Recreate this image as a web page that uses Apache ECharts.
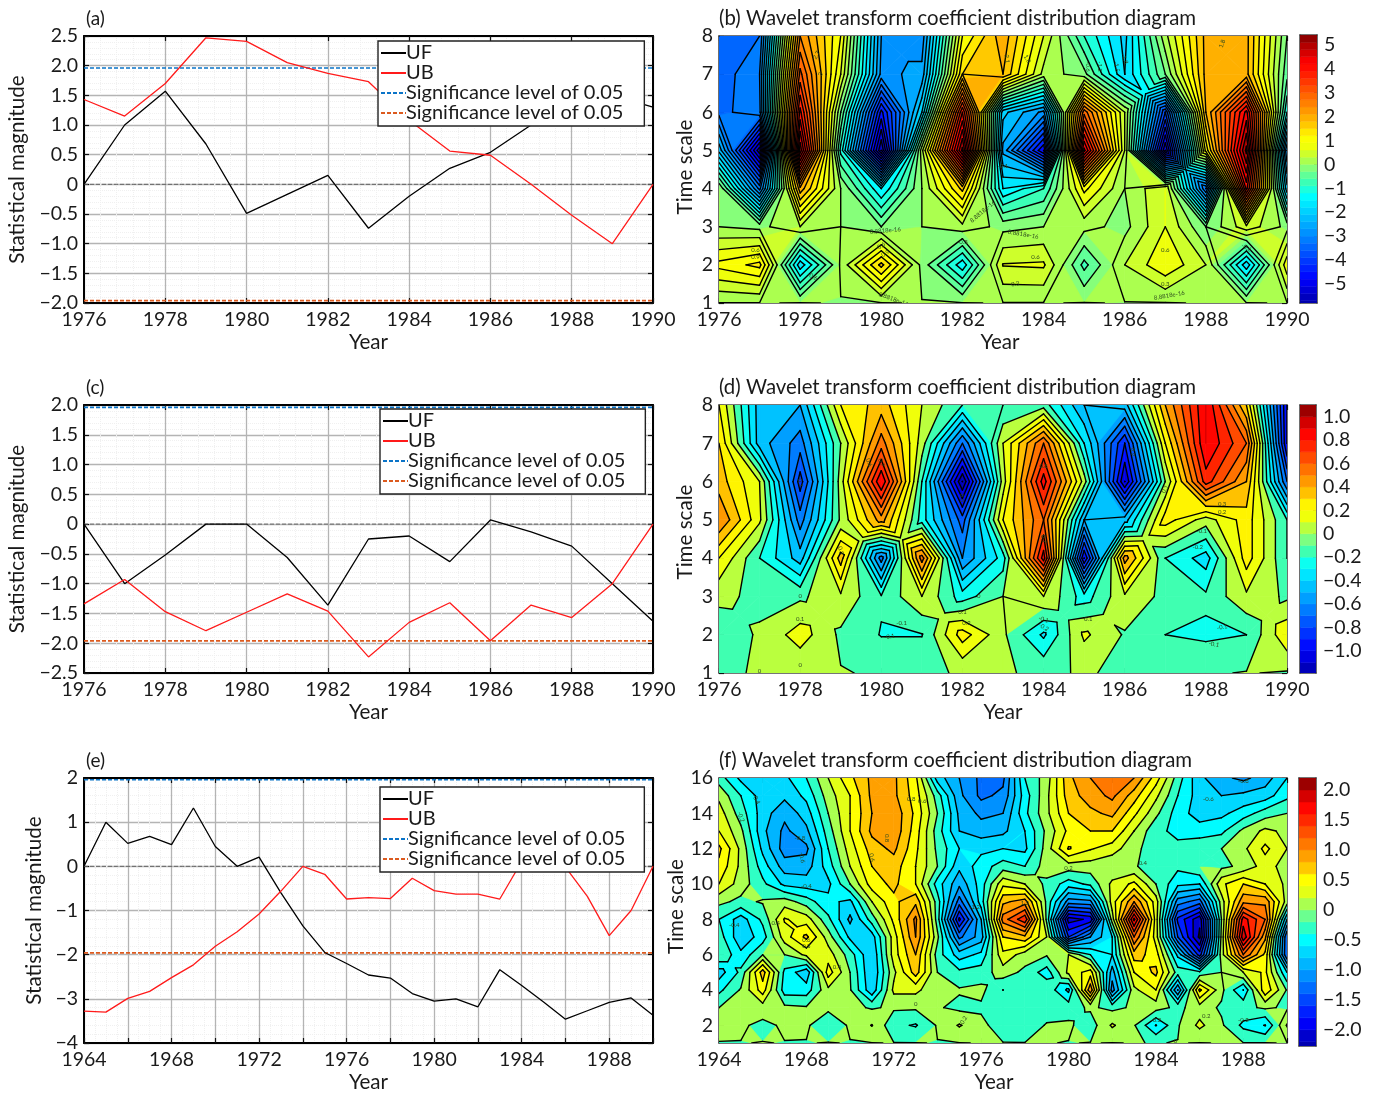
<!DOCTYPE html>
<html>
<head>
<meta charset="utf-8">
<style>html,body{margin:0;padding:0;background:#fff}#c{width:1377px;height:1094px}</style>
<script src="https://cdn.jsdelivr.net/npm/echarts@6/dist/echarts.min.js"></script>
</head>
<body>
<div id="c"></div>
<script>
// ---------- line panels ----------
const yearsA = [1976,1977,1978,1979,1980,1981,1982,1983,1984,1985,1986,1987,1988,1989,1990];
const ufA = [0,1.0,1.57,0.68,-0.49,-0.17,0.15,-0.74,-0.2,0.27,0.54,1.0,1.3,1.5,1.3];
const ubA = [1.43,1.15,1.7,2.47,2.41,2.05,1.87,1.73,1.08,0.56,0.49,0,-0.52,-1.0,0];
const ufC = [0,-1.0,-0.52,0,0,-0.56,-1.36,-0.25,-0.2,-0.63,0.07,-0.13,-0.37,-1.0,-1.63];
const ubC = [-1.34,-0.93,-1.47,-1.79,-1.48,-1.17,-1.46,-2.23,-1.65,-1.32,-1.96,-1.36,-1.57,-1.0,0];
const yearsE = [1964,1965,1966,1967,1968,1969,1970,1971,1972,1973,1974,1975,1976,1977,1978,1979,1980,1981,1982,1983,1984,1985,1986,1987,1988,1989,1990];
const ufE = [0,1.0,0.52,0.68,0.49,1.32,0.45,0,0.21,-0.6,-1.35,-1.95,-2.2,-2.46,-2.53,-2.88,-3.05,-3.0,-3.18,-2.34,-2.7,-3.07,-3.46,-3.27,-3.08,-2.98,-3.37];
const ubE = [-3.28,-3.3,-2.99,-2.83,-2.52,-2.23,-1.81,-1.48,-1.08,-0.56,0,-0.18,-0.74,-0.71,-0.73,-0.27,-0.55,-0.63,-0.63,-0.74,0.11,0.3,-0.02,-0.68,-1.57,-1.0,0];
const sigHigh = 1.96;
const sigLow = -1.96;

// ---------- wavelet panel (b), one row per time scale, 1976..1990 ----------
const bS1 = [-.01,-.01,.01,-.01,-.01,.01,.01,-.01,-.01,.01,-.01,-.01,.01,.01,-.01];
const bS2 = [1.0,1.3,-1.7,0.05,1.6,-0.1,-1.4,0.62,0.65,-0.7,0.3,0.85,0.3,-1.7,0.8];
const bS3 = [0,-0.1,0.3,0,-0.3,0,0.2,-0.1,0,0.1,-0.1,0.6,-0.3,0.5,-0.1];
const bS4 = [0,-3.1,2.0,0,-1.5,0,1.6,-1.5,-0.9,1.0,0,0.6,-3.3,4.0,-2.0];
const bS5 = [-2.2,-5.6,5.0,-1.0,-5.7,0.2,5.2,-2.5,-4.8,4.6,0.3,-5.4,1.0,5.2,-3.0];
const bS6 = [-3.4,-3.1,4.0,-0.3,-4.6,-1.8,3.9,-2.0,-2.8,2.9,0.3,-3.9,1.8,4.3,-1.2];
const bS7 = [-3.5,-3.0,3.1,0.6,-2.8,-2.6,1.5,1.8,0.2,-0.2,-1.8,-0.3,1.9,1.9,-0.5];
const bS8 = [-3.6,-3.3,2.4,0.9,-2.7,-2.9,0.9,2.0,0.6,-0.9,-1.9,0.2,1.9,1.9,-0.3];
const waveB = [bS1,bS2,bS3,bS4,bS5,bS6,bS7,bS8];

// ---------- wavelet panel (d) ----------
const dS1 = [-.01,.005,.005,.005,-.01,-.01,.005,.005,-.01,.005,-.01,-.01,-.01,.005,-.01];
const dS2 = [-0.05,0.01,0.15,-0.02,-0.105,-0.105,0.25,0.02,-0.22,0.12,-0.01,-0.1,-0.12,-0.1,0.18];
const dS3 = [0.02,-0.02,-0.02,0.08,-0.09,0.1,-0.15,0,0.1,-0.15,0.08,-0.03,-0.08,0.08,-0.02];
const dS4 = [0.2,-0.1,-0.35,0.35,-0.55,0.55,-0.5,-0.15,0.85,-0.9,0.45,-0.1,-0.25,0.25,-0.1];
const dS5 = [0.5,0.12,-0.55,0.02,0.45,-0.15,-0.65,0.2,0.6,-0.4,-0.35,0.25,0.05,0.25,-0.1];
const dS6 = [0.35,0.1,-0.75,0.05,0.9,-0.1,-1.1,0.05,0.85,0.05,-1.0,0,0.75,0.4,-0.6];
const dS7 = [0.3,-0.35,-0.55,0,0.55,0.05,-0.6,0.1,0.6,-0.2,-0.8,0.2,0.9,0.6,-0.9];
const dS8 = [0.2,-0.35,-0.4,0.2,0.35,0.1,-0.1,-0.1,-0.05,-0.4,-0.35,0.4,0.9,0.3,-0.9];
const waveD = [dS1,dS2,dS3,dS4,dS5,dS6,dS7,dS8];

// ---------- wavelet panel (f), 1964..1990 ----------
const fS1  = [-.005,-.005,.005,-.005,-.005,.005,-.005,-.005,.005,.005,-.005,-.005,.005,.005,.005,.005,-.005,.005,-.005,.005,-.005,.005,-.005,.005,.005,.005,-.005];
const fS2  = [.05,.03,-.05,.03,.02,-.1,.02,.21,-.15,-.22,.02,.22,.05,-.1,-.15,.02,.03,-.1,.23,.02,-.41,-.02,.25,.03,-.25,-.41,.22];
const fS3  = [0,.02,.1,.05,.02,.03,.05,-.02,.03,.03,.02,-.05,-.03,-.1,-.1,-.12,-.08,.03,-.05,.03,.08,-.05,.1,-.03,-.05,.03,-.03];
const fS4  = [-.25,.02,.5,-.3,-.3,.15,.02,-.55,.25,.25,.05,.02,.05,-.2,-.05,-.05,-.45,.95,-.9,.15,.4,-.8,.65,.05,-.4,.55,-.02];
const fS5  = [-.5,-.15,.7,-.25,-.55,.5,0,-.6,.15,.7,0,-.15,-.1,.1,-.05,-.3,.25,.5,-.7,.4,.65,-.1,-.15,0,.2,.45,-.4];
const fS6  = [0,-.35,0,0,.25,.3,-.1,-.6,.3,.8,-.1,-.5,-.35,.35,.1,.02,.2,-.2,-.4,.7,.5,-.45,-1.5,.1,1.2,.55,-1.2];
const fS7  = [-.1,-.55,-.3,.3,.65,.1,-.45,-.5,.3,1.0,.05,-1.05,-.7,.6,.75,.2,-1.4,-.8,-.4,1.2,.3,-1.2,-2.05,.05,1.95,.85,-1.2];
const fS8  = [-.2,-.5,-.15,.42,.3,-.15,-.65,-.1,.45,1.05,-.1,-1.65,-.6,1.1,1.55,-.05,-1.9,-1.75,.1,1.85,.3,-1.45,-1.95,0,1.7,1.2,-.6];
const fS9  = [.05,-.05,.02,.1,-.1,-.35,-.45,.2,.55,.75,-.1,-1.1,-.3,.75,.9,-.05,-.9,-.85,.3,1.0,.3,-.9,-1.1,.1,.95,.95,.1];
const fS10 = [.4,.1,-.15,-.45,-.5,-.45,0,.5,.65,.4,-.3,-.75,-.3,.35,.2,-.05,-.3,-.15,.25,.45,0,-.35,-.4,.35,.6,.4,.15];
const fS11 = [.55,.15,-.3,-.7,-.7,-.3,.2,.6,.7,.4,0,-.55,-.3,-.1,-.2,.1,.1,.1,.02,.02,-.1,-.15,0,-.05,.05,.3,.1];
const fS12 = [.65,.15,-.45,-.9,-.85,-.2,.3,.7,.85,.45,-.05,-.4,-.45,-.4,-.45,.1,.62,.42,.3,.05,-.1,-.15,-.05,0,.15,.45,.2];
const fS13 = [.4,.05,-.55,-.85,-.65,-.1,.4,.85,.95,.5,-.1,-.6,-.7,-.65,-.4,.05,.45,.6,.6,.2,-.15,-.25,-.3,-.25,.05,.25,.15];
const fS14 = [.3,-.1,-.5,-.75,-.5,0,.4,.8,.95,.55,0,-.65,-.85,-.8,-.25,.15,.6,.75,.85,.45,.05,-.3,-.5,-.45,-.3,-.1,0];
const fS15 = [.15,-.2,-.5,-.55,-.35,.1,.4,.85,.85,.5,-.1,-.75,-1.05,-.95,-.3,.15,.7,.9,1.05,.7,.25,-.2,-.5,-.6,-.55,-.5,-.25];
const fS16 = [-.1,-.45,-.55,-.45,-.2,.2,.55,.85,.85,.45,-.5,-.8,-1.05,-1.05,-.2,.1,.75,1.0,1.1,1.0,.5,-.1,-.55,-.75,-.85,-.7,-.4];
const waveF = [fS1,fS2,fS3,fS4,fS5,fS6,fS7,fS8,fS9,fS10,fS11,fS12,fS13,fS14,fS15,fS16];

// ---------- contour labels: year, scale, text, rotation ----------
const labelsB = [[1978.4,7.5,'2.7',-60],[1978.5,7.0,'3',-70],[1983.1,7.4,'2.1',80],[1983.6,7.4,'1.8',60],[1985.1,7.2,'-0.6',90],[1985.4,7.2,'-1.2',90],[1985.8,7.2,'-1.5',80],[1986.0,7.4,'-1.8',70],[1988.4,7.8,'1.8',-70],[1983,4.6,'-2.1',0],[1976.9,2.4,'0.6',0],[1976.9,2.2,'0.9',0],[1978.3,1.7,'-0.6',30],[1980.0,2.5,'0.6',-30],[1980.1,2.3,'0.9',-30],[1982,2.6,'-0.3',0],[1983.8,2.2,'0.6',0],[1983.3,1.5,'0.3',-10],[1987,2.4,'0.6',0],[1987,1.5,'0.3',0],[1989,2.45,'-0.6',30],[1980.3,1.1,'8.8818e-16',20],[1987.1,1.2,'8.8818e-16',-10],[1983.5,2.8,'8.8818e-16',10],[1980.1,2.9,'8.8818e-16',-5],[1982.5,3.4,'8.8818e-16',-40]];
const labelsD = [[1978,6,'-0.7',80],[1979,4.2,'0.3',75],[1980,6.5,'0.7',70],[1979.7,6.5,'0.6',70],[1982,5.6,'-0.8',90],[1984,6.4,'0.8',0],[1984,4.5,'0.7',80],[1986.2,6.8,'-0.9',90],[1988.4,5.4,'0.3',0],[1988.4,5.2,'0.2',0],[1987.9,4.7,'-0.1',0],[1987.8,4.3,'-0.2',0],[1978,1.2,'0',0],[1978,3.0,'0',0],[1978,2.4,'0.1',0],[1980.5,2.3,'-0.1',0],[1980.2,1.95,'-0.1',-10],[1982,2.6,'0.1',0],[1982.1,2.3,'0.2',0],[1984,2.4,'-0.1',20],[1984,2.2,'-0.2',30],[1985.1,2.4,'0.1',0],[1988.4,2.2,'-0.1',-10],[1988.2,1.75,'-0.1',10],[1977,1.05,'0',0],[1982.4,3.0,'0',0],[1987,5.8,'0.1',-60]];
const labelsF = [[1965,13.8,'-0.2',70],[1965.7,14.8,'-0.4',60],[1967.7,12.6,'-0.8',0],[1967.8,11.5,'-0.6',80],[1968,9.9,'-0.4',0],[1968,6.8,'0.6',0],[1968,6.5,'0.3',0],[1971,11.5,'0.6',80],[1971.7,12.6,'0.8',90],[1972.8,14.8,'0.8',0],[1973.3,14.7,'0.6',0],[1975.7,8.7,'-1.2',0],[1978,8.9,'1.2',0],[1980,10.9,'0.2',0],[1983.4,11.2,'0.4',0],[1986.4,14.8,'-0.6',0],[1988,15.8,'-0.8',0],[1984,2.3,'-0.2',0],[1988,2.3,'-0.2',0],[1986.3,2.5,'0.2',0],[1984.9,1.1,'0',0],[1975.2,2.3,'0.2',-60],[1973,3.2,'0',0],[1969.4,5.3,'0.4',0],[1966.6,7.8,'0.4',0],[1964.7,7.7,'-0.4',0]];

// ---------- colour ramp ----------
const rampStops = [[0,[0,0,168]],[0.09,[0,0,255]],[0.24,[0,128,255]],[0.40,[0,255,255]],[0.455,[64,255,176]],[0.50,[128,255,128]],[0.54,[184,255,64]],[0.585,[240,255,10]],[0.62,[255,255,0]],[0.665,[255,200,0]],[0.72,[255,150,0]],[0.87,[255,16,0]],[0.90,[255,0,0]],[1,[128,0,0]]];
function ramp(f){
  f = Math.max(0,Math.min(1,f));
  for (let i=1;i<rampStops.length;i++){
    if (f<=rampStops[i][0]){
      const a=rampStops[i-1], b=rampStops[i], t=(f-a[0])/(b[0]-a[0]);
      const c=a[1].map((v,k)=>Math.round(v+(b[1][k]-v)*t));
      return 'rgb('+c.join(',')+')';
    }
  }
  return 'rgb(128,0,0)';
}

// ---------- fonts and helpers ----------
const FONT = 'Lato';
const txtCol = '#1a1a1a';
const NAME_FS = 20.6;
const TICK_FS = 19.5;
const minus = s => String(s).replace('-','\u2212');

const option = {animation:false, backgroundColor:'#fff', title:[], grid:[], xAxis:[], yAxis:[], legend:[], series:[]};

function addGrid(box){
  option.grid.push({left:box.l, top:box.t, width:box.r-box.l, height:box.b-box.t, containLabel:false});
  return option.grid.length-1;
}
function baseX(g, o){
  return {type:'value', gridIndex:g, min:o.xMin, max:o.xMax, interval:o.xInt,
    axisLine:{onZero:false, lineStyle:{color:o.frame,width:o.fw}},
    axisTick:{inside:true,length:5,lineStyle:{color:'#111',width:1.2}}};
}
function addAxes(g, o){
  const xa = baseX(g,o);
  const main = Object.assign({}, xa, {position:'bottom',
    name:'Year', nameLocation:'middle', nameGap:29, nameTextStyle:{fontFamily:FONT,fontSize:NAME_FS,color:txtCol,padding:o.xPad||0},
    axisLabel:{fontFamily:FONT,fontSize:TICK_FS,color:txtCol,margin:7,
      hideOverlap:false, showMinLabel:true, showMaxLabel:true,
      formatter:v=>(v-o.xMin)%o.xLab===0?String(v):''},
    splitLine:{show:o.grid,lineStyle:{color:'#b4b4b4',width:1.3}},
    minorTick:{show:false,splitNumber:o.xMinor||5},
    minorSplitLine:{show:o.grid,lineStyle:{color:'#f0f0f0',width:1,type:'dotted'}}});
  option.xAxis.push(main);
  const xIdx = option.xAxis.length-1;
  option.xAxis.push(Object.assign({}, xa, {position:'top', axisLabel:{show:false}, splitLine:{show:false}}));

  const ya = {type:'value', gridIndex:g, min:o.yMin, max:o.yMax,
    axisLine:{onZero:false,lineStyle:{color:o.frame,width:o.fw}},
    axisTick:{inside:true,length:5,lineStyle:{color:'#111',width:1.2}}};
  if (o.yInt) ya.interval = o.yInt;
  if (o.yTicks) ya.axisTick.customValues = o.yTicks;
  const lab = {fontFamily:FONT,fontSize:TICK_FS,color:txtCol,margin:6,formatter:o.yFmt};
  if (o.yTicks) lab.customValues = o.yTicks;
  option.yAxis.push(Object.assign({}, ya, {position:'left',
    name:o.yName, nameLocation:'middle', nameGap:o.yGap, nameRotate:90,
    nameTextStyle:{fontFamily:FONT,fontSize:NAME_FS,color:txtCol,padding:o.yPad||0},
    axisLabel:lab,
    splitLine:{show:o.grid,lineStyle:{color:'#b4b4b4',width:1.3}},
    minorTick:{show:false,splitNumber:5},
    minorSplitLine:{show:o.grid,lineStyle:{color:'#f0f0f0',width:1,type:'dotted'}}}));
  const yIdx = option.yAxis.length-1;
  option.yAxis.push(Object.assign({}, ya, {position:'right', axisLabel:{show:false}, splitLine:{show:false}}));
  return {xIdx,yIdx};
}

function addLinePanel(box, label, years, uf, ub, o, leg){
  const g = addGrid(box);
  const a = addAxes(g, Object.assign({frame:'#000',fw:2,grid:true,yName:'Statistical magnitude'}, o));
  option.title.push({text:label,left:box.l-3,top:box.t-32,textStyle:{fontFamily:FONT,fontSize:19,fontWeight:'normal',color:txtCol}});
  const zip = v => years.map((y,i)=>[y,v[i]]);
  const common = {type:'line',xAxisIndex:a.xIdx,yAxisIndex:a.yIdx,showSymbol:false,symbol:'none',silent:true};
  const ends = [years[0],years[years.length-1]];
  option.series.push(Object.assign({},common,{name:'zero',data:ends.map(x=>[x,0]),z:2,itemStyle:{color:'#666'},lineStyle:{color:'#666',width:1,type:[4,2]}}));
  option.series.push(Object.assign({},common,{name:'UF',data:zip(uf),z:3,itemStyle:{color:'#000'},lineStyle:{color:'#000',width:1.3}}));
  option.series.push(Object.assign({},common,{name:'UB',data:zip(ub),z:3,itemStyle:{color:'#ff1a1a'},lineStyle:{color:'#ff1a1a',width:1.3}}));
  option.series.push(Object.assign({},common,{name:'Significance level of 0.05',data:ends.map(x=>[x,sigHigh]),z:2,itemStyle:{color:'#0a74c8'},lineStyle:{color:'#0a74c8',width:1.6,type:[4,2]}}));
  option.series.push(Object.assign({},common,{name:'Significance level of 0.05 (lower)',data:ends.map(x=>[x,sigLow]),z:2,itemStyle:{color:'#dc5a1e'},lineStyle:{color:'#dc5a1e',width:1.6,type:[4,2]}}));
  option.legend.push({left:leg.l,top:leg.t,orient:'vertical',selectedMode:false,z:10,
    data:['UF','UB','Significance level of 0.05','Significance level of 0.05 (lower)'],
    formatter:n=>n.replace(' (lower)',''),
    itemWidth:25,itemHeight:20,itemGap:0,itemStyle:{opacity:0},
    padding:[2,leg.pr,3,2],backgroundColor:'#fff',borderColor:'#222',borderWidth:1.4,
    textStyle:{fontFamily:FONT,fontSize:leg.fs,color:txtCol,padding:[0,0,0,-5],lineHeight:20}});
}

// polygon clipped at a value limit along its edges
function clipBand(poly, test, lim){
  const out=[];
  for (let i=0;i<poly.length;i++){
    const p=poly[i], q=poly[(i+1)%poly.length];
    const pin=test(p[2]), qin=test(q[2]);
    if (pin) out.push(p);
    if (pin!==qin){
      const t=(lim-p[2])/(q[2]-p[2]);
      out.push([p[0]+(q[0]-p[0])*t,p[1]+(q[1]-p[1])*t,lim]);
    }
  }
  return out;
}
// a strong saddle cell is split round its mean so bands stay simple polygons
function cellPolys(q){
  const a=q[0][2],b=q[1][2],c=q[2][2],d=q[3][2];
  const hiAC=Math.min(a,c)-Math.max(b,d), hiBD=Math.min(b,d)-Math.max(a,c);
  const range=Math.max(a,b,c,d)-Math.min(a,b,c,d);
  if(Math.max(hiAC,hiBD)<0.3*range) return [q];
  const m=[(q[0][0]+q[2][0])/2,(q[0][1]+q[2][1])/2,(a+b+c+d)/4];
  return [[q[0],q[1],m],[q[1],q[2],m],[q[2],q[3],m],[q[3],q[0],m]];
}

function addWaveletPanel(box, bar, title, years, rows, o, labels){
  const g = addGrid(box);
  const a = addAxes(g, Object.assign({frame:'#4a4a4a',fw:1.6,grid:false,yName:'Time scale'}, o));
  option.title.push({text:title,left:box.l-5,top:box.t-33,textStyle:{fontFamily:FONT,fontSize:o.titleFs,fontWeight:'normal',color:txtCol}});
  const step=o.step, cMin=o.cMin, cMax=o.cMax;
  const fOf = v => (v-cMin)/(cMax-cMin);
  // negative bands take the colour one band lower, as the reference fill does
  const fillColor = k => {
    const lo=k*step, mid=(k+0.5)*step;
    return ramp(fOf(o.shift && lo<-1e-9 ? mid-step : mid));
  };
  const cells=[];
  for (let r=0;r<rows.length-1;r++) for (let c=0;c<years.length-1;c++){
    cells.push([years[c],r+1,years[c+1],r+2,rows[r][c],rows[r][c+1],rows[r+1][c+1],rows[r+1][c]]);
  }
  const readCell = api => {
    const x0=api.value(0),y0=api.value(1),x1=api.value(2),y1=api.value(3);
    return [[x0,y0,api.value(4)],[x1,y0,api.value(5)],[x1,y1,api.value(6)],[x0,y1,api.value(7)]];
  };
  option.series.push({type:'custom',xAxisIndex:a.xIdx,yAxisIndex:a.yIdx,silent:true,z:2,clip:true,
    encode:{x:[0,2],y:[1,3]},data:cells,
    renderItem:function(p,api){
      const children=[];
      cellPolys(readCell(api)).forEach(quad=>{
        const vals=quad.map(q=>q[2]);
        const kA=Math.floor(Math.min(...vals)/step), kB=Math.floor(Math.max(...vals)/step);
        for(let k=kA;k<=kB;k++){
          const lo=k*step, hi=(k+1)*step;
          let poly=clipBand(quad,v=>v>=lo,lo);
          if(poly.length>2) poly=clipBand(poly,v=>v<=hi,hi);
          if(poly.length<3) continue;
          const col=fillColor(k);
          children.push({type:'polygon',shape:{points:poly.map(q=>api.coord([q[0],q[1]]))},style:{fill:col,stroke:col,lineWidth:0.7}});
        }
      });
      return {type:'group',children};
    }});
  const lineEl = (A,B) => ({type:'line',shape:{x1:A[0],y1:A[1],x2:B[0],y2:B[1]},style:{stroke:'#000',lineWidth:1.4,lineCap:'round'}});
  option.series.push({type:'custom',xAxisIndex:a.xIdx,yAxisIndex:a.yIdx,silent:true,z:3,clip:true,
    encode:{x:[0,2],y:[1,3]},data:cells,
    renderItem:function(p,api){
      const children=[];
      cellPolys(readCell(api)).forEach(q=>{
        const vals=q.map(v=>v[2]);
        const kA=Math.ceil(Math.min(...vals)/step), kB=Math.floor(Math.max(...vals)/step);
        for(let k=kA;k<=kB;k++){
          const L=k*step+1e-7, pts=[];
          for(let i=0;i<q.length;i++){
            const s=q[i],e=q[(i+1)%q.length];
            if((s[2]<L)!==(e[2]<L)){
              const t=(L-s[2])/(e[2]-s[2]);
              pts.push(api.coord([s[0]+(e[0]-s[0])*t,s[1]+(e[1]-s[1])*t]));
            }
          }
          if(pts.length===2) children.push(lineEl(pts[0],pts[1]));
          if(pts.length===4){
            const ctr=vals.reduce((u,w)=>u+w,0)/4, same=((ctr<L)===(q[0][2]<L));
            const pair=same?[[0,1],[2,3]]:[[3,0],[1,2]];
            pair.forEach(u=>children.push(lineEl(pts[u[0]],pts[u[1]])));
          }
        }
      });
      return {type:'group',children};
    }});
  // contour labels
  option.series.push({type:'custom',xAxisIndex:a.xIdx,yAxisIndex:a.yIdx,silent:true,z:5,clip:true,
    encode:{x:0,y:1},data:labels.map(l=>[l[0],l[1],l[3]]),
    renderItem:function(p,api){
      const c=api.coord([api.value(0),api.value(1)]);
      return {type:'text',x:c[0],y:c[1],rotation:-api.value(2)*Math.PI/180,
        style:{text:labels[p.dataIndex][2],fontSize:6,fontFamily:FONT,fill:'#2c4a1e',align:'center',verticalAlign:'middle'}};
    }});

  // colour bar
  const gb = addGrid(bar);
  option.xAxis.push({type:'value',gridIndex:gb,min:0,max:1,show:false});
  const bx=option.xAxis.length-1;
  option.yAxis.push({type:'value',gridIndex:gb,position:'right',min:cMin,max:cMax,
    axisLine:{onZero:false,show:true,lineStyle:{color:'#4a4a4a',width:1.6}},
    axisTick:{show:true,inside:true,length:3,customValues:o.barTicks,lineStyle:{color:'#222',width:1}},
    axisLabel:{fontFamily:FONT,fontSize:TICK_FS,color:txtCol,margin:7,customValues:o.barTicks,formatter:o.barFmt},
    splitLine:{show:false}});
  const by=option.yAxis.length-1;
  const bands=[];
  for(let v=Math.floor(cMin/step);v*step<cMax;v++) bands.push([Math.max(v*step,cMin),Math.min((v+1)*step,cMax)]);
  option.series.push({type:'custom',xAxisIndex:bx,yAxisIndex:by,silent:true,z:2,clip:true,
    encode:{y:[0,1]},data:bands,
    renderItem:function(p,api){
      const lo=api.value(0),hi=api.value(1);
      const A=api.coord([0,lo]),B=api.coord([1,hi]);
      const col=ramp(fOf((lo+hi)/2));
      return {type:'rect',shape:{x:A[0],y:B[1],width:B[0]-A[0],height:A[1]-B[1]},style:{fill:col,stroke:col,lineWidth:0.5}};
    }});
  option.xAxis.push({type:'value',gridIndex:gb,position:'top',min:0,max:1,axisLabel:{show:false},axisTick:{show:false},splitLine:{show:false},axisLine:{onZero:false,lineStyle:{color:'#4a4a4a',width:1.6}}});
  option.xAxis.push({type:'value',gridIndex:gb,position:'bottom',min:0,max:1,axisLabel:{show:false},axisTick:{show:false},splitLine:{show:false},axisLine:{onZero:false,lineStyle:{color:'#4a4a4a',width:1.6}}});
  option.yAxis.push({type:'value',gridIndex:gb,position:'left',min:cMin,max:cMax,axisLabel:{show:false},axisTick:{show:false},splitLine:{show:false},axisLine:{onZero:false,show:true,lineStyle:{color:'#4a4a4a',width:1.6}}});
}

const fmt1 = v => v===0?'0':minus(v.toFixed(1));
const fmt0 = v => minus(String(v));

addLinePanel({l:84,r:653,t:36,b:303},'(a)',yearsA,ufA,ubA,
  {xMin:1976,xMax:1990,xInt:2,xLab:2,xMinor:5,yMin:-2,yMax:2.5,yInt:0.5,yFmt:fmt1,yGap:56},
  {l:378,t:41,pr:21,fs:20});
addLinePanel({l:84,r:653,t:405,b:673},'(c)',yearsA,ufC,ubC,
  {xMin:1976,xMax:1990,xInt:2,xLab:2,xMinor:5,yMin:-2.5,yMax:2,yInt:0.5,yFmt:fmt1,yGap:56},
  {l:380,t:409,pr:20,fs:20});
addLinePanel({l:84,r:653,t:778,b:1044},'(e)',yearsE,ufE,ubE,
  {xMin:1964,xMax:1990,xInt:2,xLab:4,xMinor:4,yMin:-4,yMax:2,yInt:1,yFmt:fmt0,yGap:39},
  {l:380,t:787,pr:19,fs:20});

addWaveletPanel({l:719,r:1287,t:36,b:303},{l:1300,r:1317,t:35,b:303},'(b) Wavelet transform coefficient distribution diagram',yearsA,waveB,
  {xMin:1976,xMax:1990,xInt:2,xLab:2,yMin:1,yMax:8,yInt:1,yFmt:fmt0,yGap:23,yPad:[0,0,0,5],xPad:[0,6,0,0],titleFs:20.4,step:0.3,cMin:-5.8,cMax:5.41,shift:false,
   barTicks:[-5,-4,-3,-2,-1,0,1,2,3,4,5],barFmt:fmt0},labelsB);
addWaveletPanel({l:719,r:1287,t:405,b:673},{l:1300,r:1316,t:405,b:673},'(d) Wavelet transform coefficient distribution diagram',yearsA,waveD,
  {xMin:1976,xMax:1990,xInt:2,xLab:2,yMin:1,yMax:8,yInt:1,yFmt:fmt0,yGap:23,yPad:[0,0,0,14],titleFs:20.4,step:0.1,cMin:-1.19,cMax:1.1,shift:true,
   barTicks:[-1,-0.8,-0.6,-0.4,-0.2,0,0.2,0.4,0.6,0.8,1],barFmt:fmt1},labelsD);
addWaveletPanel({l:719,r:1287,t:778,b:1045},{l:1299,r:1316,t:778,b:1046},'(f) Wavelet transform coefficient distribution diagram',yearsE,waveF,
  {xMin:1964,xMax:1990,xInt:2,xLab:4,yMin:1,yMax:16,yTicks:[2,4,6,8,10,12,14,16],yFmt:fmt0,yGap:31,yPad:[0,0,0,8],xPad:[0,18,0,0],titleFs:20.4,step:0.2,cMin:-2.27,cMax:2.2,shift:true,
   barTicks:[-2,-1.5,-1,-0.5,0,0.5,1,1.5,2],barFmt:fmt1},labelsF);

const chart = echarts.init(document.getElementById('c'),null,{renderer:'canvas'});
chart.setOption(option);
</script>
</body>
</html>
